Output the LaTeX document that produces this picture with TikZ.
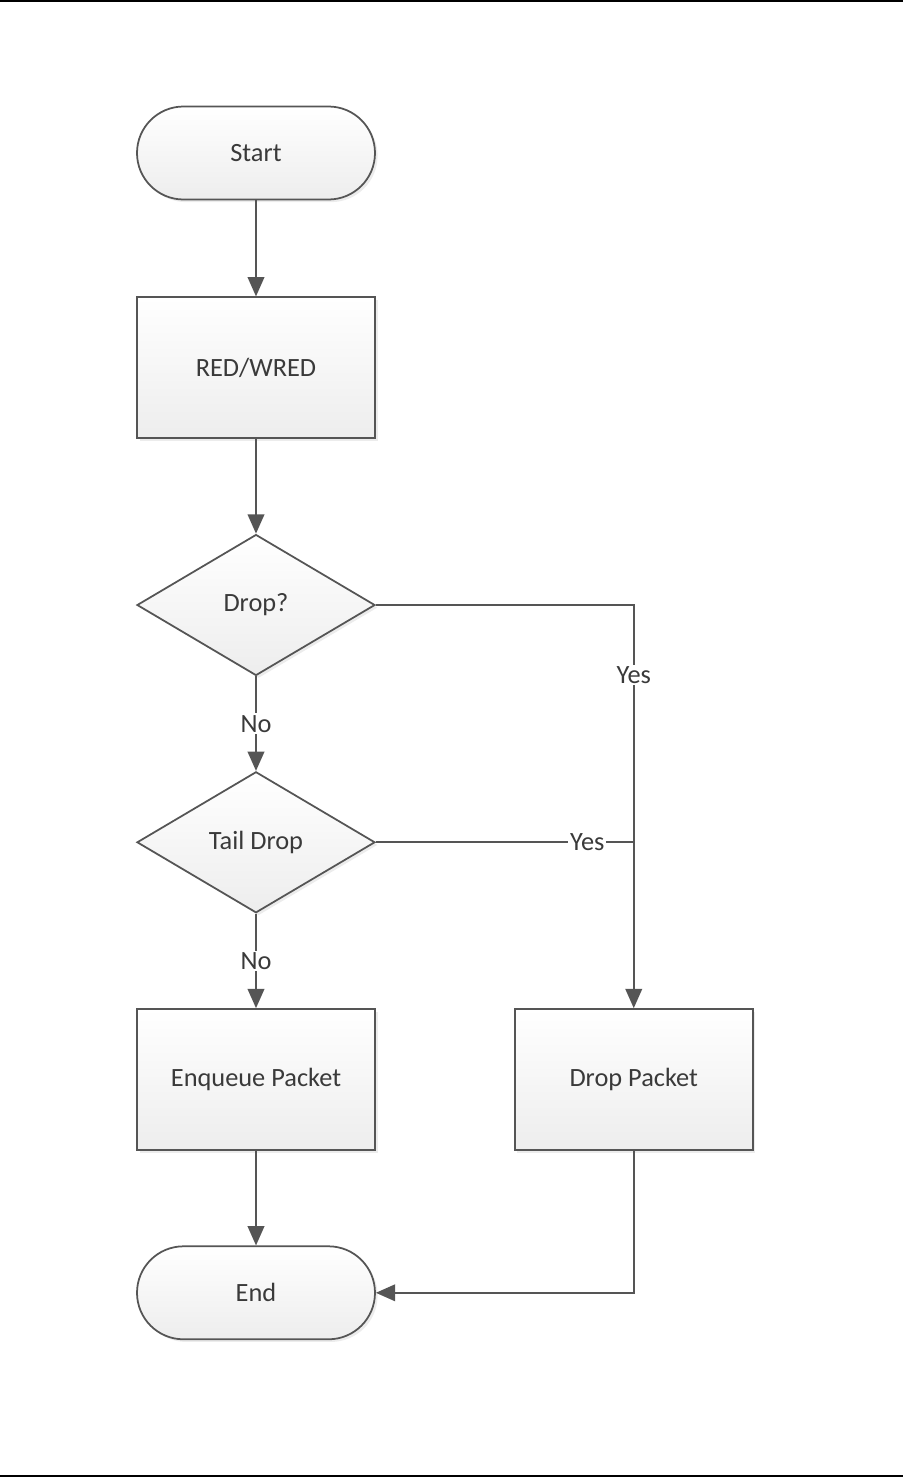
\documentclass[tikz,border=0pt]{standalone}
\usepackage{fontspec}
\setmainfont{Carlito}
\usepackage{tikz}
\usetikzlibrary{arrows.meta,positioning,shapes.geometric,shadows}

\definecolor{edge}{HTML}{555555}
\definecolor{txt}{HTML}{3a3a3a}

\begin{document}
\begin{tikzpicture}[
  font=\fontsize{15}{17}\selectfont,
  base/.style={draw=edge, line width=1pt, text=txt, top color=white, bottom color=gray!14,
    drop shadow={shadow xshift=1.5pt, shadow yshift=-1.5pt, opacity=0.15}},
  term/.style={base, minimum width=4.76cm, minimum height=1.86cm, rounded corners=0.93cm},
  proc/.style={base, minimum width=4.76cm, minimum height=2.82cm},
  dec/.style={base, diamond, minimum width=4.76cm, minimum height=2.82cm, inner sep=0pt},
  conn/.style={draw=edge, line width=1pt},
  arr/.style={conn, -{Triangle[length=11pt,width=9.5pt]}},
  lab/.style={fill=white, text=txt, inner sep=1pt},
  node distance=1.89cm
]
\useasboundingbox (0,0) rectangle (18.06,-29.58);
\draw[line width=1.2pt] (0,-0.02) -- (18.06,-0.02);
\draw[line width=1.2pt] (0,-29.52) -- (18.06,-29.52);

\node[term] (start) at (5.12,-3.06) {Start};
\node[proc, below=1.92cm of start] (red) {RED/WRED};
\node[dec, below=of red] (drop) {Drop?};
\node[dec, below=of drop] (tail) {Tail Drop};
\node[proc, below=of tail] (enq) {Enqueue Packet};
\node[proc, right=2.76cm of enq] (dpkt) {Drop Packet};
\node[term, below=of enq] (end) {End};

\coordinate (join) at (dpkt.north |- tail.east);

\draw[arr] (start) -- (red);
\draw[arr] (red) -- (drop);
\draw[arr] (drop) -- node[lab, midway] {No} (tail);
\draw[arr] (tail) -- node[lab, midway] {No} (enq);
\draw[arr] (drop.east) -| node[lab, pos=0.587] {Yes} (dpkt.north);
\draw[conn] (tail.east) -- node[lab, pos=0.82] {Yes} (join);
\draw[arr] (enq) -- (end);
\draw[arr] (dpkt.south) |- (end.east);
\end{tikzpicture}
\end{document}
